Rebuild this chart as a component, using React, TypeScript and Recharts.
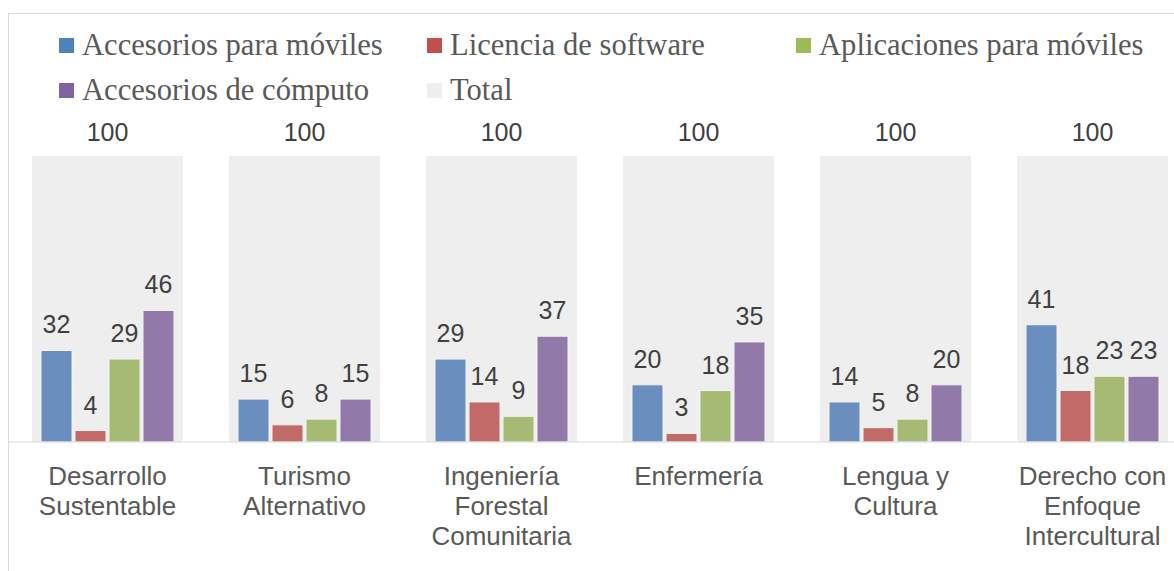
import React from "react";
import { Bar, BarChart, LabelList, Legend, XAxis, YAxis } from "recharts";

const carreras = [
  "Desarrollo\nSustentable",
  "Turismo\nAlternativo",
  "Ingeniería\nForestal\nComunitaria",
  "Enfermería",
  "Lengua y\nCultura",
  "Derecho con\nEnfoque\nIntercultural",
];
const accesoriosMoviles = [32, 15, 29, 20, 14, 41];
const licenciaSoftware = [4, 6, 14, 3, 5, 18];
const aplicacionesMoviles = [29, 8, 9, 18, 8, 23];
const accesoriosComputo = [46, 15, 37, 35, 20, 23];
const totales = [100, 100, 100, 100, 100, 100];

const series = [
  { key: "movil", name: "Accesorios para móviles", fill: "#6a8fbe", swatch: "#4f81bd" },
  { key: "licencia", name: "Licencia de software", fill: "#c16a68", swatch: "#c0504d" },
  { key: "apps", name: "Aplicaciones para móviles", fill: "#a5bb73", swatch: "#9bbb59" },
  { key: "computo", name: "Accesorios de cómputo", fill: "#917aa9", swatch: "#8064a2" },
];

const data = carreras.map((name, i) => ({
  name,
  movil: accesoriosMoviles[i],
  licencia: licenciaSoftware[i],
  apps: aplicacionesMoviles[i],
  computo: accesoriosComputo[i],
  total: totales[i],
}));

const legendItems = [
  { name: series[0].name, color: series[0].swatch, x: 50, y: 41 },
  { name: series[1].name, color: series[1].swatch, x: 418, y: 41 },
  { name: series[2].name, color: series[2].swatch, x: 787, y: 41 },
  { name: series[3].name, color: series[3].swatch, x: 50, y: 86 },
  { name: "Total", color: "#eeeeee", x: 418, y: 86 },
];

function LegendBox() {
  return (
    <svg width={1200} height={142} style={{ display: "block" }}>
      {legendItems.map((it) => (
        <g key={it.name}>
          <rect x={it.x} y={it.y - 17} width={15} height={15} fill={it.color} />
          <text
            x={it.x + 23}
            y={it.y}
            fontFamily="'Liberation Serif', serif"
            fontSize={30.6}
            fill="#595959"
          >
            {it.name}
          </text>
        </g>
      ))}
    </svg>
  );
}

function CarreraTick({ x, y, payload }: any) {
  const lines = String(payload.value).split("\n");
  return (
    <text
      x={x}
      y={y + 43}
      textAnchor="middle"
      fontFamily="'Liberation Sans', Arial, sans-serif"
      fontSize={26}
      fill="#595959"
    >
      {lines.map((line, i) => (
        <tspan key={i} x={x} dy={i === 0 ? 0 : 30}>
          {line}
        </tspan>
      ))}
    </text>
  );
}

const labelStyle = {
  fontFamily: "'Liberation Sans', Arial, sans-serif",
  fontSize: 25,
  fill: "#404040",
};

export default function App() {
  return (
    <div style={{ position: "fixed", left: 0, top: 0, width: 1174, height: 571, overflow: "hidden", background: "#fff" }}>
      <div
        style={{
          position: "absolute",
          left: 8,
          top: 13,
          width: 1200,
          height: 600,
          borderTop: "1px solid #d9d9d9",
          borderLeft: "1px solid #d9d9d9",
        }}
      >
        <BarChart
          width={1200}
          height={600}
          data={data}
          margin={{ top: 0, right: 18, bottom: 112, left: 0 }}
          barGap={3}
        >
          <XAxis
            xAxisId="main"
            dataKey="name"
            tick={<CarreraTick />}
            tickLine={false}
            tickSize={0}
            tickMargin={0}
            axisLine={{ stroke: "#d9d9d9" }}
            height={60}
            interval={0}
          />
          <XAxis xAxisId="bg" dataKey="name" hide height={0} />
          <YAxis hide domain={[0, 100]} />
          <Legend verticalAlign="top" align="left" wrapperStyle={{ top: 0, left: 0 }} content={<LegendBox />} />
          <Bar xAxisId="bg" dataKey="total" name="Total" fill="#eeeeee" barSize={151} isAnimationActive={false}>
            <LabelList dataKey="total" position="top" offset={15} style={labelStyle} />
          </Bar>
          {series.map((s) => (
            <Bar
              key={s.key}
              xAxisId="main"
              dataKey={s.key}
              name={s.name}
              fill={s.fill}
              stroke="#f4f4f4"
              strokeWidth={1}
              barSize={31}
              isAnimationActive={false}
            >
              <LabelList dataKey={s.key} position="top" offset={17} style={labelStyle} />
            </Bar>
          ))}
        </BarChart>
      </div>
    </div>
  );
}
